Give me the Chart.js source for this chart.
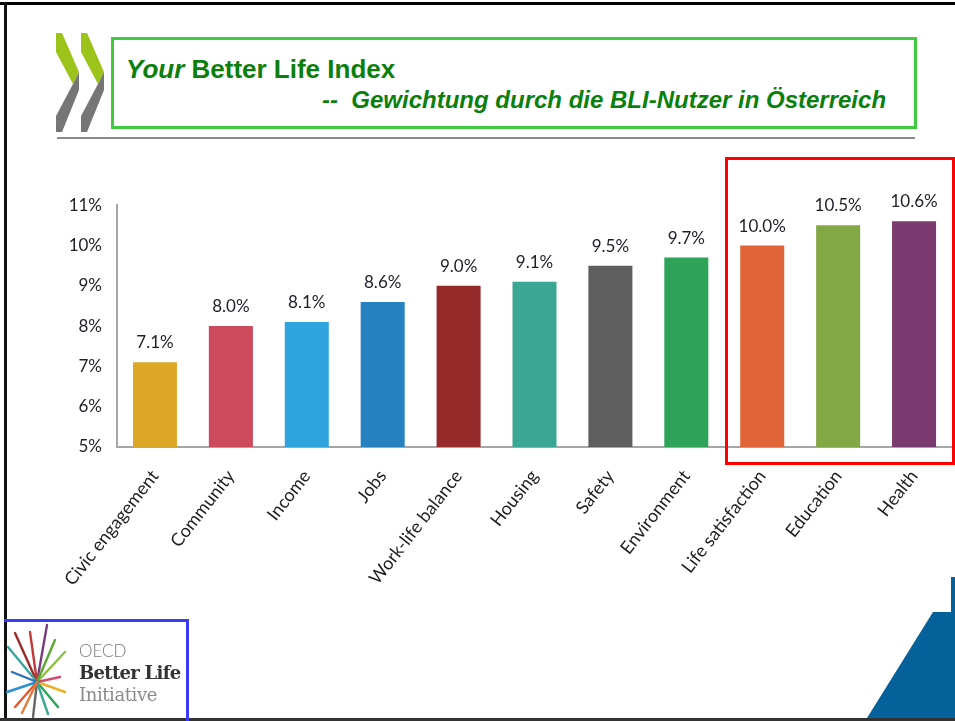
<!DOCTYPE html>
<html>
<head>
<meta charset="utf-8">
<script src="https://cdn.jsdelivr.net/npm/chart.js@4.4.1/dist/chart.umd.min.js"></script>
<style>
  html, body { margin: 0; padding: 0; background: #fff; }
  #page { position: relative; width: 955px; height: 721px; overflow: hidden; background: #fff; }
  .abs { position: absolute; }
  #title1, #title2 { color: #0b7f0b; font-family: "Liberation Sans", Arial, sans-serif; font-weight: bold; white-space: pre; }
  #title1 { left: 126px; top: 56px; font-size: 26px; line-height: 26px; }
  #title2 { left: 322px; top: 88px; font-size: 24px; line-height: 24px; font-style: italic; }
  #chartWrap { left: 0; top: 180px; width: 955px; height: 441px; }
  .logoText { font-family: "DejaVu Serif", serif; white-space: pre; }
</style>
</head>
<body>
<div id="page">
  <!-- frame -->
  <div class="abs" style="left:0;top:2px;width:955px;height:3px;background:#000"></div>
  <div class="abs" style="left:4px;top:2px;width:3px;height:719px;background:#111"></div>
  <div class="abs" style="left:0;top:718px;width:955px;height:3px;background:#333"></div>

  <!-- OECD chevrons -->
  <svg class="abs" style="left:0;top:0" width="130" height="140">
    <polygon points="56,33 62,33 79,72 73,84 56,52" fill="#9bc31a"/>
    <polygon points="73,84 79,72 79,90 62,132 56,132 56,116" fill="#767676"/>
    <polygon points="81,33 87,33 104,72 98,84 81,52" fill="#9bc31a"/>
    <polygon points="98,84 104,72 104,90 87,132 81,132 81,116" fill="#767676"/>
  </svg>

  <!-- title box -->
  <div class="abs" style="left:111px;top:37px;width:800px;height:86px;border:3px solid #3fcb3f"></div>
  <div id="title1" class="abs"><i>Your</i> Better Life Index</div>
  <div id="title2" class="abs">--&nbsp; Gewichtung durch die BLI-Nutzer in Österreich</div>
  <div class="abs" style="left:57px;top:137px;width:858px;height:2px;background:#8a8a8a"></div>

  <!-- chart -->
  <div id="chartWrap" class="abs"><canvas id="bliChart"></canvas></div>

  <!-- highlight box -->
  <div class="abs" style="left:725px;top:157px;width:224px;height:302px;border:3px solid #f00"></div>

  <!-- bottom left logo -->
  <div class="abs" style="left:4px;top:619px;width:182px;height:3px;background:#3a3af8"></div>
  <div class="abs" style="left:186px;top:619px;width:3px;height:102px;background:#3a3af8"></div>
  <svg class="abs" style="left:0;top:610px" width="80" height="111">
    <g stroke-width="2.4" stroke-linecap="round">
      <line x1="37" y1="72" x2="47" y2="15" stroke="#7a3b7a"/>
      <line x1="37" y1="72" x2="15" y2="23" stroke="#9b2a2a"/>
      <line x1="37" y1="72" x2="8" y2="37" stroke="#37a7a0"/>
      <line x1="37" y1="72" x2="7" y2="82" stroke="#2b8fd0"/>
      <line x1="37" y1="72" x2="15" y2="97" stroke="#e4572e"/>
      <line x1="37" y1="72" x2="33" y2="107" stroke="#666"/>
      <line x1="37" y1="72" x2="58" y2="97" stroke="#2fa35a"/>
      <line x1="37" y1="72" x2="65" y2="82" stroke="#e6b325"/>
      <line x1="37" y1="72" x2="65" y2="42" stroke="#8cbf3f"/>
      <line x1="37" y1="72" x2="60" y2="67" stroke="#d24d6c"/>
      <line x1="37" y1="72" x2="30" y2="22" stroke="#c23b3b"/>
      <line x1="37" y1="72" x2="55" y2="30" stroke="#5aa830"/>
      <line x1="37" y1="72" x2="12" y2="62" stroke="#2e6fb5"/>
      <line x1="37" y1="72" x2="48" y2="104" stroke="#3aa694"/>
      <line x1="37" y1="72" x2="22" y2="103" stroke="#e07b39"/>
    </g>
  </svg>
  <div class="abs logoText" style="left:79px;top:642px;font-size:17px;line-height:17px;color:#7a7a7a;font-family:'Lato',sans-serif;font-weight:300">OECD</div>
  <div class="abs logoText" style="left:79px;top:664px;font-size:18px;line-height:18px;color:#333;font-weight:bold;letter-spacing:-0.7px">Better Life</div>
  <div class="abs logoText" style="left:79px;top:686px;font-size:18px;line-height:18px;color:#8a8a8a;letter-spacing:-0.4px">Initiative</div>

  <!-- bottom right shape -->
  <svg class="abs" style="left:0;top:0" width="955" height="721">
    <polygon points="867,718 933,612 951,612 951,577 955,577 955,718" fill="#06609a"/>
  </svg>
</div>

<script>
// Data
const categories = ['Civic engagement', 'Community', 'Income', 'Jobs', 'Work-life balance', 'Housing', 'Safety', 'Environment', 'Life satisfaction', 'Education', 'Health'];
const weights = [7.1, 8.0, 8.1, 8.6, 9.0, 9.1, 9.5, 9.7, 10.0, 10.5, 10.6];
const barColors = ['#dca826', '#cc4a5c', '#2ea3de', '#2581c0', '#962a2a', '#3aa694', '#5e5e5e', '#2fa35a', '#e06438', '#82a845', '#7b3a6f'];
const yTicks = [5, 6, 7, 8, 9, 10, 11];

const labelFont = "'Lato', 'Open Sans', sans-serif";

// Value labels above each bar
const valueLabels = {
  id: 'valueLabels',
  afterDatasetsDraw(chart) {
    const ctx = chart.ctx;
    const meta = chart.getDatasetMeta(0);
    ctx.save();
    ctx.font = '17px ' + labelFont;
    ctx.fillStyle = '#1e1e28';
    ctx.textAlign = 'center';
    ctx.textBaseline = 'alphabetic';
    meta.data.forEach((bar, i) => {
      ctx.fillText(weights[i].toFixed(1) + '%', bar.x, bar.y - 14);
    });
    ctx.restore();
  }
};

document.addEventListener('DOMContentLoaded', () => {
  const ctx = document.getElementById('bliChart');
  new Chart(ctx, {
    type: 'bar',
    data: {
      labels: categories,
      datasets: [{
        data: weights,
        backgroundColor: barColors,
        borderWidth: 0,
        barPercentage: 0.58,
        categoryPercentage: 1.0
      }]
    },
    options: {
      responsive: true,
      maintainAspectRatio: false,
      animation: false,
      layout: { padding: { top: 23, right: 3, left: 0, bottom: 0 } },
      plugins: {
        legend: { display: false },
        tooltip: { enabled: false }
      },
      scales: {
        x: {
          grid: { display: false, drawTicks: false },
          border: { color: '#a6a6a6', width: 2 },
          ticks: {
            color: '#1e1e1e',
            font: { family: labelFont, size: 18 },
            minRotation: 52,
            maxRotation: 52,
            autoSkip: false,
            padding: 19
          },
          afterFit(scale) { scale.height = 174; }
        },
        y: {
          min: 5,
          max: 11,
          grid: { display: false, drawTicks: false },
          border: { color: '#a6a6a6', width: 2 },
          afterBuildTicks(scale) {
            scale.ticks = yTicks.map(v => ({ value: v }));
          },
          ticks: {
            color: '#1e1e28',
            font: { family: labelFont, size: 17 },
            padding: 15,
            callback: v => v + '%'
          },
          afterFit(scale) { scale.width = 117; }
        }
      }
    },
    plugins: [valueLabels]
  });
});
</script>
</body>
</html>
